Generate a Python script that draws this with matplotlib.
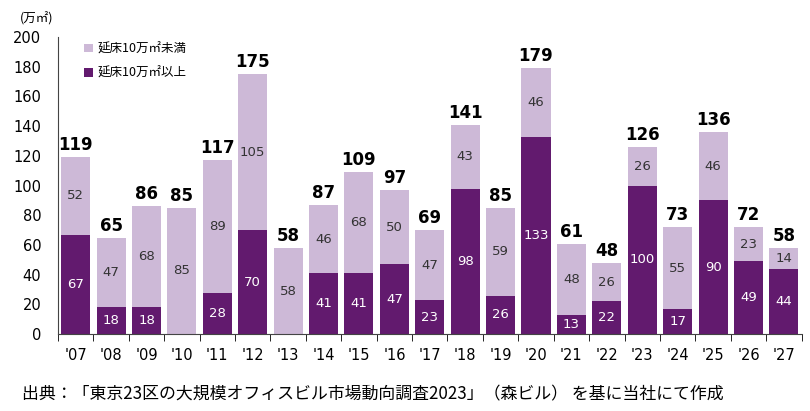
import matplotlib
matplotlib.use('Agg')
import matplotlib.pyplot as plt
import numpy as np

years = ["'07", "'08", "'09", "'10", "'11", "'12", "'13", "'14", "'15", "'16", "'17",
         "'18", "'19", "'20", "'21", "'22", "'23", "'24", "'25", "'26", "'27"]
large = [67, 18, 18, 0, 28, 70, 0, 41, 41, 47, 23, 98, 26, 133, 13, 22, 100, 17, 90, 49, 44]
small = [52, 47, 68, 85, 89, 105, 58, 46, 68, 50, 47, 43, 59, 46, 48, 26, 26, 55, 46, 23, 14]
totals = [119, 65, 86, 85, 117, 175, 58, 87, 109, 97, 69, 141, 85, 179, 61, 48, 126, 73, 136, 72, 58]

plt.rcParams['font.family'] = ['Noto Sans CJK JP', 'DejaVu Sans']

dark = '#621a6e'
light = '#cdb9d7'

fig = plt.figure(figsize=(8.1, 4.11), dpi=100)
ax = fig.add_axes([0.0716, 0.187, 0.918, 0.723])

x = np.arange(len(years))
ax.bar(x, large, width=0.82, color=dark, label='延床10万㎡以上')
ax.bar(x, small, width=0.82, bottom=large, color=light, label='延床10万㎡未満')

for i in x:
    if large[i] > 0:
        ax.text(i, large[i] / 2, str(large[i]), ha='center', va='center',
                color='white', fontsize=9.5, family='DejaVu Sans')
    ax.text(i, large[i] + small[i] / 2, str(small[i]), ha='center', va='center',
            color='#333333', fontsize=9.5, family='DejaVu Sans')
    ax.text(i, large[i] + small[i] + 2, str(totals[i]), ha='center', va='bottom',
            color='black', fontsize=12, fontweight='bold', family='DejaVu Sans')

ax.set_xlim(-0.5, len(years) - 0.5)
ax.set_ylim(0, 200)
ax.set_yticks(range(0, 201, 20))
ax.set_xticks(x)
ax.set_xticklabels(years, family='DejaVu Sans', fontsize=10.5)
ax.tick_params(axis='x', length=0, pad=10)
ax.set_xticks(np.arange(-0.5, len(years)), minor=True)
ax.tick_params(axis='x', which='minor', length=5, direction='out')
ax.tick_params(axis='y', length=0, labelsize=10.5, pad=12)
for lab in ax.get_yticklabels():
    lab.set_family('DejaVu Sans')
for s in ['top', 'right']:
    ax.spines[s].set_visible(False)
ax.spines['left'].set_color('#444444')
ax.spines['bottom'].set_color('#444444')

handles, labels = ax.get_legend_handles_labels()
ax.legend(handles[::-1], labels[::-1], loc='upper left', bbox_to_anchor=(0.02, 1.02),
          frameon=False, fontsize=9, handlelength=0.7, handleheight=0.7,
          labelspacing=0.9, handletextpad=0.4)

fig.text(0.025, 0.955, '(万㎡)', fontsize=9, va='center')
fig.text(0.027, 0.04, '出典：「東京23区の大規模オフィスビル市場動向調査2023」（森ビル） を基に当社にて作成',
         fontsize=12.2, va='center')

fig.savefig('out.png', dpi=100, facecolor='white')
